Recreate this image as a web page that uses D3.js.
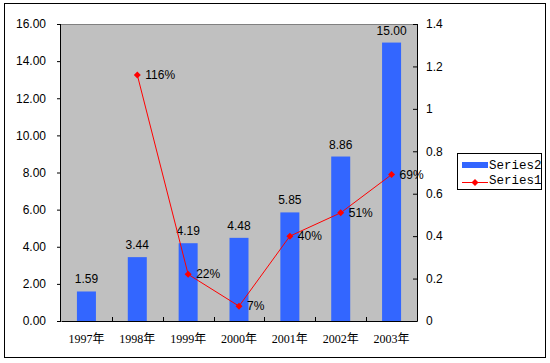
<!DOCTYPE html>
<html><head><meta charset="utf-8">
<script src="https://cdn.jsdelivr.net/npm/d3@7"></script>
<style>body{margin:0;background:#fff}svg{display:block}</style>
</head><body>
<svg id="c" width="550" height="363"></svg>
<script>
const categories = ["1997年","1998年","1999年","2000年","2001年","2002年","2003年"];
const series2 = [1.59, 3.44, 4.19, 4.48, 5.85, 8.86, 15.00];
const series1 = [null, 1.16, 0.22, 0.07, 0.40, 0.51, 0.69];
const series1Labels = [null, "116%", "22%", "7%", "40%", "51%", "69%"];
const leftTicks = [0,2,4,6,8,10,12,14,16];
const rightTicks = [0,0.2,0.4,0.6,0.8,1,1.2,1.4];
const legendNames = ["Series2","Series1"];

const svg = d3.select("#c");
const L = 61, R = 417, T = 24, B = 321;
const font = "Liberation Sans, Arial, sans-serif";

svg.append("rect").attr("x",4.5).attr("y",3.5).attr("width",541).attr("height",354)
  .attr("fill","#fff").attr("stroke","#000").attr("stroke-width",1);

const x = d3.scaleBand().domain(categories).range([L,R]);
const yL = d3.scaleLinear().domain([0,16]).range([B,T]);
const yR = d3.scaleLinear().domain([0,1.4]).range([B,T]);

svg.append("rect").attr("x",L).attr("y",T).attr("width",R-L).attr("height",B-T).attr("fill","#C0C0C0");
svg.append("line").attr("x1",L).attr("x2",R).attr("y1",T+0.5).attr("y2",T+0.5).attr("stroke","#808080");

// bars
const bw = 19;
svg.selectAll("rect.bar").data(series2).enter().append("rect").attr("class","bar")
  .attr("x",(d,i)=>x(categories[i])+x.bandwidth()/2-bw/2)
  .attr("y",d=>yL(d)).attr("width",bw).attr("height",d=>B-yL(d))
  .attr("fill","#3366FF");
svg.selectAll("text.bl").data(series2).enter().append("text").attr("class","bl")
  .attr("x",(d,i)=>x(categories[i])+x.bandwidth()/2)
  .attr("y",d=>yL(d)-8).attr("text-anchor","middle")
  .attr("font-family",font).attr("font-size",12).attr("fill","#000")
  .text(d=>d.toFixed(2));

// axes
const gl = svg.append("g").attr("transform",`translate(${L},0)`)
  .call(d3.axisLeft(yL).tickValues(leftTicks).tickFormat(d=>d.toFixed(2)).tickSize(4).tickPadding(11));
const gr = svg.append("g").attr("transform",`translate(${R},0)`)
  .call(d3.axisRight(yR).tickValues(rightTicks).tickFormat(d=>String(d)).tickSizeInner(-4).tickSizeOuter(0).tickPadding(9));
const gb = svg.append("g").attr("transform",`translate(0,${B})`)
  .call(d3.axisBottom(x).tickSize(0).tickPadding(13));
[gl,gr,gb].forEach(g=>{
  g.select(".domain").attr("stroke","#000");
  g.selectAll(".tick line").attr("stroke","#000");
  g.selectAll("text").attr("font-family",font).attr("font-size",12).attr("fill","#000");
});
gl.select(".domain").attr("d",`M-0.5,${T}V${B+0.5}`);
gr.select(".domain").attr("d",`M0.5,${T}V${B+0.5}`);
gb.selectAll("text").attr("font-family","Liberation Serif, Noto Sans CJK SC, serif").attr("font-size",12);
// category boundary ticks
svg.selectAll("line.ct").data(categories.slice(1)).enter().append("line").attr("class","ct")
  .attr("x1",d=>Math.round(x(d))+0.5).attr("x2",d=>Math.round(x(d))+0.5)
  .attr("y1",B).attr("y2",B-4).attr("stroke","#000");

// line series
const pts = series1.map((v,i)=>({v,i,l:series1Labels[i]})).filter(d=>d.v!==null);
const line = d3.line().x(d=>x(categories[d.i])+x.bandwidth()/2).y(d=>yR(d.v));
svg.append("path").datum(pts).attr("d",line).attr("fill","none").attr("stroke","#FF0000").attr("stroke-width",1);
const diamond = "M0,-3.5L3.5,0L0,3.5L-3.5,0Z";
svg.selectAll("path.mk").data(pts).enter().append("path").attr("class","mk")
  .attr("d",diamond).attr("fill","#FF0000")
  .attr("transform",d=>`translate(${x(categories[d.i])+x.bandwidth()/2},${yR(d.v)})`);
svg.selectAll("text.pl").data(pts).enter().append("text").attr("class","pl")
  .attr("x",d=>x(categories[d.i])+x.bandwidth()/2+8).attr("y",d=>yR(d.v)+4)
  .attr("font-family",font).attr("font-size",12).attr("fill","#000").text(d=>d.l);

// legend
const lg = svg.append("g");
lg.append("rect").attr("x",457.5).attr("y",153.5).attr("width",84).attr("height",36)
  .attr("fill","#fff").attr("stroke","#000");
lg.append("rect").attr("x",462).attr("y",162).attr("width",26).attr("height",6).attr("fill","#3366FF");
lg.append("line").attr("x1",462).attr("x2",488).attr("y1",182.5).attr("y2",182.5).attr("stroke","#FF0000");
lg.append("path").attr("d",diamond).attr("fill","#FF0000").attr("transform","translate(475,182.5)");
lg.selectAll("text").data(legendNames).enter().append("text")
  .attr("x",489).attr("y",(d,i)=>169+i*15)
  .attr("font-family","Liberation Mono, monospace").attr("font-size",12.5).attr("fill","#000")
  .text(d=>d);
</script>
</body></html>
